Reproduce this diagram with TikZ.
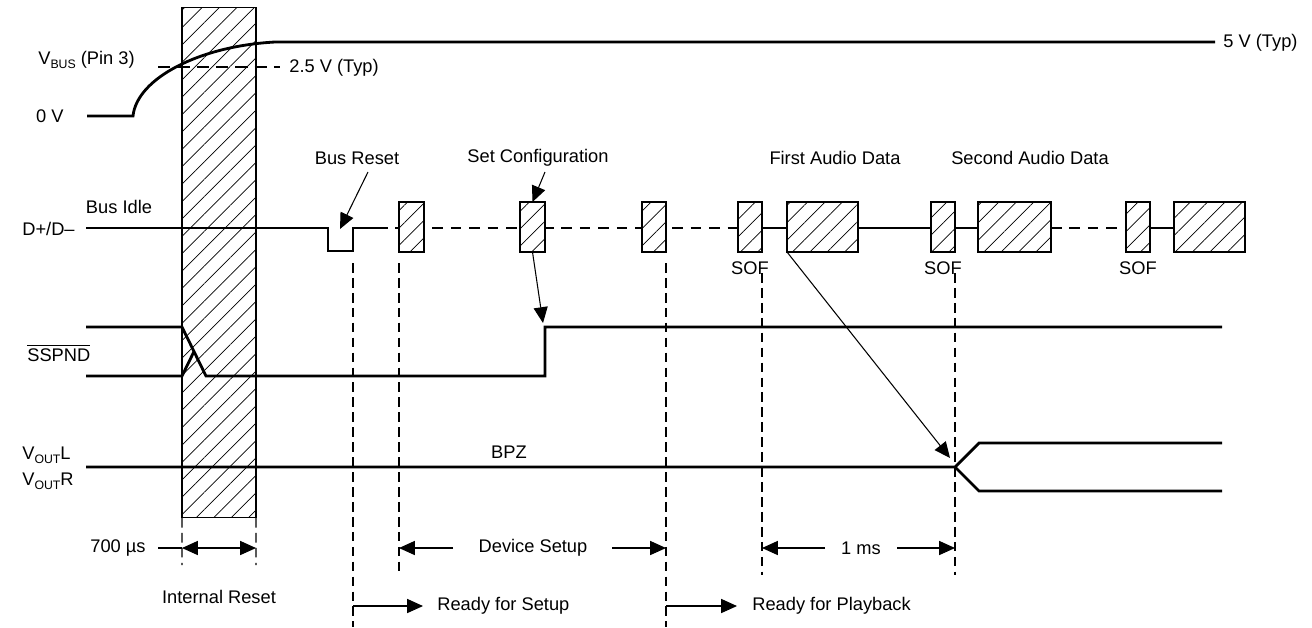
\documentclass[tikz,border=0pt]{standalone}
\usepackage{fontspec}
\setmainfont{Liberation Sans}
\usetikzlibrary{arrows.meta,patterns.meta}
\newcommand{\mysub}[1]{\raisebox{-0.45ex}{\fontsize{7}{8}\selectfont #1}}
\begin{document}
\begin{tikzpicture}[x=0.02cm,y=-0.02cm,
 lbl/.style={font=\fontsize{10.4}{12}\selectfont, inner sep=0pt},
 sig/.style={line width=1.6pt},
 hbox/.style={draw, line width=0.6pt, inner sep=0pt, outer sep=0pt, preaction={fill=white},
   pattern={Lines[angle=45,distance=7pt,line width=0.4pt]}},
 guide/.style={line width=0.6pt, dash pattern=on 5.5pt off 3pt},
 busdash/.style={line width=0.6pt, dash pattern=on 6pt off 4.5pt},
 refdash/.style={line width=0.6pt, dash pattern=on 7pt off 4pt},
 thin/.style={line width=0.6pt},
 arr/.style={-{Triangle[length=9pt,width=8pt]}, line width=0.6pt},
 darr/.style={{Triangle[length=9pt,width=8pt]}-{Triangle[length=9pt,width=8pt]}, line width=0.6pt}]
\useasboundingbox (0,0) rectangle (1312,627);

% ---------- Internal reset box (drawn first, signals cross over it) ----------
\node[hbox, minimum width=1.48cm, minimum height=10.22cm] (ireset) at (219,262.5) {};
\coordinate (irl) at (182,565);
\coordinate (irr) at (256,565);
\draw[guide] (ireset.south west) -- (irl);
\draw[guide] (ireset.south east) -- (irr);

% ---------- VBUS ----------
\node[lbl, anchor=west] (vbus) at (38,60) {V\mysub{BUS} (Pin 3)};
\node[lbl, anchor=east] (zerov) at (64,116) {0 V};
\node[lbl, anchor=west] (fivev) at (1223,43) {5 V (Typ)};
\node[lbl, anchor=west] (twofive) at (289,68) {2.5 V (Typ)};
\coordinate (v0) at (87,116);
\coordinate (v1) at (133,116);
\coordinate (v2) at (275,42);
\coordinate (v3) at (1215,42);
\draw[sig] (v0) -- (v1) .. controls (137,78) and (200,46) .. (v2) -- (v3);
\coordinate (rl) at (158,67);
\coordinate (rr) at (280,67);
\draw[refdash] (rl) -- (rr);

% ---------- D+/D- ----------
\node[lbl, anchor=west] (dpdm) at (22,229) {D+/D\textendash};
\node[lbl] (busidle) at (119,207) {Bus Idle};
\coordinate (d0) at (86,228);
\coordinate (d1) at (377,228);
\coordinate (d2) at (1126,228);
\draw[sig] (d0) -- (328,228) -- (328,251) -- (353,251) -- (353,228) -- (d1);
\draw[busdash] (d1) -- (738,228);
\draw[busdash] (1051,228) -- (d2);
\draw[sig] (762,228) -- (787,228);
\draw[sig] (858,228) -- (931,228);
\draw[sig] (955,228) -- (978,228);
\draw[sig] (1150,228) -- (1174,228);

\node[hbox, minimum width=0.5cm, minimum height=1cm] (b1) at (411.5,227) {};
\node[hbox, minimum width=0.5cm, minimum height=1cm] (b2) at (532.5,227) {};
\node[hbox, minimum width=0.48cm, minimum height=1cm] (b3) at (654,227) {};
\node[hbox, minimum width=0.48cm, minimum height=1cm] (sof1) at (750,227) {};
\node[hbox, minimum width=1.42cm, minimum height=1cm] (aud1) at (822.5,227) {};
\node[hbox, minimum width=0.48cm, minimum height=1cm] (sof2) at (943,227) {};
\node[hbox, minimum width=1.46cm, minimum height=1cm] (aud2) at (1014.5,227) {};
\node[hbox, minimum width=0.48cm, minimum height=1cm] (sof3) at (1138,227) {};
\node[hbox, minimum width=1.42cm, minimum height=1cm] (aud3) at (1209.5,227) {};

\node[lbl] (busreset) at (357,158) {Bus Reset};
\node[lbl] (setconf) at (538,158) {Set Configuration};
\node[lbl] (firstaud) at (835,158) {First Audio Data};
\node[lbl] (secondaud) at (1030,158) {Second Audio Data};
\node[lbl] (sofl1) at (750,268) {SOF};
\node[lbl] (sofl2) at (943,268) {SOF};
\node[lbl] (sofl3) at (1138,268) {SOF};

\coordinate (brs) at (368,172);
\coordinate (brt) at (340,229);
\draw[arr] (brs) -- (brt);
\coordinate (scs) at (545,172);
\draw[arr] (scs) -- (b2.north);

% ---------- SSPND ----------
\node[lbl, anchor=west] (sspnd) at (27,353) {$\overline{\mbox{SSPND}}$};
\coordinate (s0) at (86,327);
\coordinate (s1) at (86,376);
\coordinate (sedge) at (545,327);
\coordinate (s2) at (1222,327);
\draw[sig] (s0) -- (182,327) -- (206,376) -- (545,376) -- (sedge) -- (s2);
\draw[sig] (s1) -- (182,376) -- (194,351.5);
\coordinate (sct) at (543,323);
\draw[arr] (b2.south) -- (sct);

% ---------- VOUT ----------
\node[lbl, anchor=west] (voutl) at (22,455) {V\mysub{OUT}L};
\node[lbl, anchor=west] (voutr) at (22,481) {V\mysub{OUT}R};
\node[lbl] (bpz) at (509,452) {BPZ};
\coordinate (o0) at (86,467);
\coordinate (obrk) at (955,467);
\coordinate (ou) at (1222,443);
\coordinate (od) at (1222,491);
\draw[sig] (o0) -- (obrk) -- (979,443) -- (ou);
\draw[sig] (obrk) -- (979,491) -- (od);
\coordinate (aot) at (950,458);
\draw[arr] (aud1.south west) -- (aot);

% ---------- timing guides ----------
\coordinate (g1a) at (353,263); \coordinate (g1b) at (353,627);
\coordinate (g2a) at (399,263); \coordinate (g2b) at (399,575);
\coordinate (g3a) at (666,263); \coordinate (g3b) at (666,627);
\coordinate (g4a) at (762,273); \coordinate (g4b) at (762,575);
\coordinate (g5a) at (955,273); \coordinate (g5b) at (955,575);
\draw[guide] (g1a) -- (g1b);
\draw[guide] (g2a) -- (g2b);
\draw[guide] (g3a) -- (g3b);
\draw[guide] (g4a) -- (g4b);
\draw[guide] (g5a) -- (g5b);

% ---------- dimensions ----------
\node[lbl, anchor=east] (t700) at (146,548) {700 µs};
\coordinate (m0) at (158,548);
\coordinate (m1) at (182,548);
\coordinate (m2) at (256,548);
\draw[thin] (m0) -- (m1);
\draw[darr] (m1) -- (m2);
\node[lbl] (intreset) at (219,597) {Internal Reset};

\node[lbl] (devsetup) at (533,548) {Device Setup};
\coordinate (ds1) at (399,548);
\coordinate (ds1t) at (453,548);
\coordinate (ds2t) at (612,548);
\coordinate (ds2) at (666,548);
\draw[arr] (ds1t) -- (ds1);
\draw[arr] (ds2t) -- (ds2);

\node[lbl] (onems) at (861,548) {1 ms};
\coordinate (ms1) at (762,548);
\coordinate (ms1t) at (825,548);
\coordinate (ms2t) at (897,548);
\coordinate (ms2) at (955,548);
\draw[arr] (ms1t) -- (ms1);
\draw[arr] (ms2t) -- (ms2);

\node[lbl, anchor=west] (rsetup) at (437,606) {Ready for Setup};
\coordinate (rs0) at (353,606);
\coordinate (rs1) at (423,606);
\draw[arr] (rs0) -- (rs1);
\node[lbl, anchor=west] (rplay) at (752,606) {Ready for Playback};
\coordinate (rp0) at (666,606);
\coordinate (rp1) at (737,606);
\draw[arr] (rp0) -- (rp1);
\end{tikzpicture}
\end{document}
